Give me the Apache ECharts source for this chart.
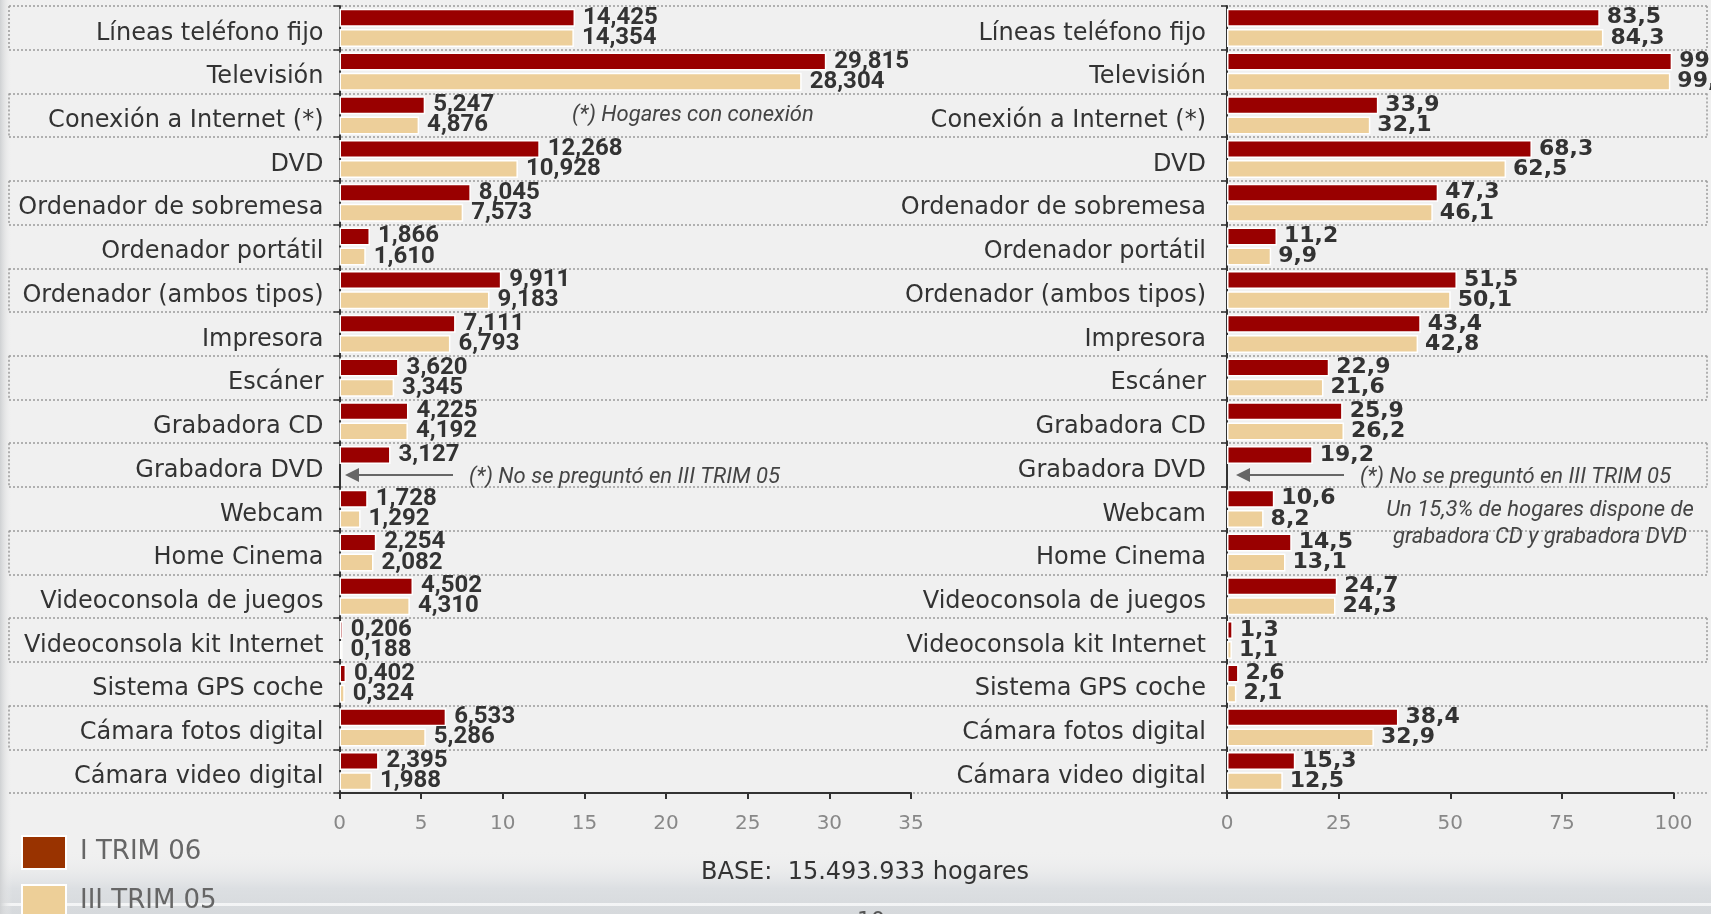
<!DOCTYPE html>
<html>
<head>
<meta charset="utf-8">
<script src="https://cdn.jsdelivr.net/npm/echarts@6/dist/echarts.min.js"></script>
<style>
html, body { margin: 0; padding: 0; background: #f0f0f0; }
#chart { width: 1711px; height: 914px; }
</style>
</head>
<body>
<div id="chart"></div>
<script>
var categorias = [
  'Líneas teléfono fijo', 'Televisión', 'Conexión a Internet (*)', 'DVD',
  'Ordenador de sobremesa', 'Ordenador portátil', 'Ordenador (ambos tipos)',
  'Impresora', 'Escáner', 'Grabadora CD', 'Grabadora DVD', 'Webcam',
  'Home Cinema', 'Videoconsola de juegos', 'Videoconsola kit Internet',
  'Sistema GPS coche', 'Cámara fotos digital', 'Cámara video digital'
];
// millones de hogares
var hogaresTrim06 = [14.425, 29.815, 5.247, 12.268, 8.045, 1.866, 9.911, 7.111, 3.620,
  4.225, 3.127, 1.728, 2.254, 4.502, 0.206, 0.402, 6.533, 2.395];
var hogaresTrim05 = [14.354, 28.304, 4.876, 10.928, 7.573, 1.610, 9.183, 6.793, 3.345,
  4.192, null, 1.292, 2.082, 4.310, 0.188, 0.324, 5.286, 1.988];
// % de hogares
var pctTrim06 = [83.5, 99.7, 33.9, 68.3, 47.3, 11.2, 51.5, 43.4, 22.9,
  25.9, 19.2, 10.6, 14.5, 24.7, 1.3, 2.6, 38.4, 15.3];
var pctTrim05 = [84.3, 99.3, 32.1, 62.5, 46.1, 9.9, 50.1, 42.8, 21.6,
  26.2, null, 8.2, 13.1, 24.3, 1.1, 2.1, 32.9, 12.5];
var ticksHogares = [0, 5, 10, 15, 20, 25, 30, 35];
var ticksPct = [0, 25, 50, 75, 100];
var filasMarcadas = [0, 2, 4, 6, 8, 10, 12, 14, 16];

var ROJO = '#990000';
var CREMA = '#EDCF9A';

function coma(dec) {
  return function (p) {
    if (p.value == null) return '';
    return p.value.toFixed(dec).replace('.', ',');
  };
}

function ejeCategorias(grid, margen) {
  return {
    type: 'category',
    gridIndex: grid,
    data: categorias,
    inverse: true,
    axisLine: { lineStyle: { color: '#333', width: 2 } },
    axisTick: { show: true, length: 6, lineStyle: { color: '#333', width: 1.5 } },
    axisLabel: {
      margin: margen,
      formatter: function (v) { return '{c|' + v + '}'; },
      rich: {
        c: { fontFamily: 'DejaVu Sans', fontSize: 24, color: '#333', padding: [11, 0, 0, 0] }
      }
    },
    splitLine: { show: false }
  };
}

function ejeValores(grid, ticks) {
  return {
    type: 'value',
    gridIndex: grid,
    min: ticks[0],
    max: ticks[ticks.length - 1],
    interval: ticks[1] - ticks[0],
    splitLine: { show: false },
    axisLine: { show: true, lineStyle: { color: '#333', width: 2 } },
    axisTick: { show: true, length: 6, lineStyle: { color: '#333', width: 2 } },
    axisLabel: { fontFamily: 'DejaVu Sans', fontSize: 20, color: '#888', margin: 21 }
  };
}

function barra(nombre, datos, color, xi, etiqueta) {
  return {
    name: nombre,
    type: 'bar',
    xAxisIndex: xi,
    yAxisIndex: xi,
    data: datos,
    barWidth: 18,
    barGap: '12%',
    itemStyle: { color: color, borderColor: '#fff', borderWidth: 1.5 },
    label: etiqueta,
    z: 3
  };
}

var etiquetaIzq = {
  show: true, position: 'right', distance: 8,
  fontFamily: 'Roboto', fontWeight: 'bold', fontSize: 24, color: '#333',
  formatter: coma(3)
};
var etiquetaDer = {
  show: true, position: 'right', distance: 7,
  fontFamily: 'DejaVu Sans', fontWeight: 'bold', fontSize: 22, color: '#333',
  formatter: coma(1)
};

var nota = { fontFamily: 'Roboto', fontStyle: 'italic', fontSize: 22, fill: '#444' };
function texto(x, y, t, align) {
  return {
    type: 'text', x: x, y: y, z: 100,
    style: Object.assign({ text: t, align: align || 'left', verticalAlign: 'middle' }, nota)
  };
}
function flecha(x1, x2, y) {
  return {
    type: 'group', z: 100,
    children: [
      { type: 'line', shape: { x1: x1, y1: y, x2: x2 + 8, y2: y }, style: { stroke: '#666', lineWidth: 2 } },
      { type: 'polygon', shape: { points: [[x2, y], [x2 + 14, y - 7], [x2 + 14, y + 7]] }, style: { fill: '#666' } }
    ]
  };
}

function leyenda(nombre, color, top) {
  return {
    orient: 'vertical',
    left: 21,
    top: top,
    padding: 0,
    itemWidth: 44,
    itemHeight: 33,
    icon: 'rect',
    textStyle: { fontFamily: 'DejaVu Sans', fontSize: 26, color: '#666', padding: [0, 0, 0, 9] },
    data: [{ name: nombre, itemStyle: { color: color } }]
  };
}

var chart = echarts.init(document.getElementById('chart'));

var option = {
  backgroundColor: '#f0f0f0',
  animation: false,
  grid: [
    { left: 339.5, top: 6, width: 571.5, height: 787 },
    { left: 1227, top: 6, width: 446.5, height: 787 },
    { left: 9, right: 4, top: 6, height: 787 }
  ],
  legend: [
    leyenda('I TRIM 06', '#993300', 835),
    leyenda('III TRIM 05', '#EDCF98', 884)
  ],
  xAxis: [
    ejeValores(0, ticksHogares),
    ejeValores(1, ticksPct),
    { type: 'value', gridIndex: 2, min: 0, max: 1, show: false }
  ],
  yAxis: [
    ejeCategorias(0, 16),
    ejeCategorias(1, 21),
    {
      type: 'category', gridIndex: 2, data: categorias, inverse: true,
      axisLine: { show: false }, axisTick: { show: false }, axisLabel: { show: false },
      splitLine: { show: true, lineStyle: { type: [2, 2], color: '#9a9a9a', width: 1.5 } }
    }
  ],
  series: [
    {
      type: 'custom',
      xAxisIndex: 2,
      yAxisIndex: 2,
      silent: true,
      z: 0,
      data: filasMarcadas.map(function (i) { return [0, i]; }),
      renderItem: function (params, api) {
        var c = api.coord([0, api.value(1)]);
        var h = api.size([0, 1])[1];
        var x0 = params.coordSys.x;
        var x1 = params.coordSys.x + params.coordSys.width;
        var st = { stroke: '#9a9a9a', lineWidth: 1.5, lineDash: [2, 2] };
        return {
          type: 'group',
          children: [
            { type: 'line', shape: { x1: x0, y1: c[1] - h / 2, x2: x0, y2: c[1] + h / 2 }, style: st },
            { type: 'line', shape: { x1: x1, y1: c[1] - h / 2, x2: x1, y2: c[1] + h / 2 }, style: st }
          ]
        };
      }
    },
    barra('I TRIM 06', hogaresTrim06, ROJO, 0, etiquetaIzq),
    barra('III TRIM 05', hogaresTrim05, CREMA, 0, etiquetaIzq),
    barra('I TRIM 06', pctTrim06, ROJO, 1, etiquetaDer),
    barra('III TRIM 05', pctTrim05, CREMA, 1, etiquetaDer)
  ],
  graphic: [
    {
      type: 'rect', z: -10, silent: true,
      shape: { x: 0, y: 850, width: 1711, height: 64 },
      style: {
        fill: new echarts.graphic.LinearGradient(0, 0, 0, 1, [
          { offset: 0, color: 'rgba(240,240,240,0)' },
          { offset: 0.6, color: '#dcdfe2' },
          { offset: 1, color: '#d6d9dc' }
        ])
      }
    },
    {
      type: 'rect', z: -9, silent: true,
      shape: { x: 0, y: 903, width: 1711, height: 3 },
      style: { fill: 'rgba(255,255,255,0.7)' }
    },
    {
      type: 'rect', z: -9, silent: true,
      shape: { x: 0, y: 0, width: 12, height: 914 },
      style: {
        fill: new echarts.graphic.LinearGradient(0, 0, 1, 0, [
          { offset: 0, color: '#cfd1d3' },
          { offset: 1, color: 'rgba(240,240,240,0)' }
        ])
      }
    },
    texto(572, 115, '(*) Hogares con conexión'),
    flecha(453, 345, 475),
    texto(469, 477, '(*) No se preguntó en III TRIM 05'),
    flecha(1344, 1236, 475),
    texto(1360, 477, '(*) No se preguntó en III TRIM 05'),
    texto(1540, 510, 'Un 15,3% de hogares dispone de', 'center'),
    texto(1540, 537, 'grabadora CD y grabadora DVD', 'center'),
    {
      type: 'text', x: 701, y: 873, z: 100,
      style: { text: 'BASE:  15.493.933 hogares', fontFamily: 'DejaVu Sans', fontSize: 24, fill: '#333', verticalAlign: 'middle' }
    },
    {
      type: 'text', x: 857, y: 910, z: 100,
      style: { text: '10', fontFamily: 'DejaVu Sans', fontSize: 22, fill: '#555', verticalAlign: 'top' }
    }
  ]
};

chart.setOption(option);
</script>
</body>
</html>
